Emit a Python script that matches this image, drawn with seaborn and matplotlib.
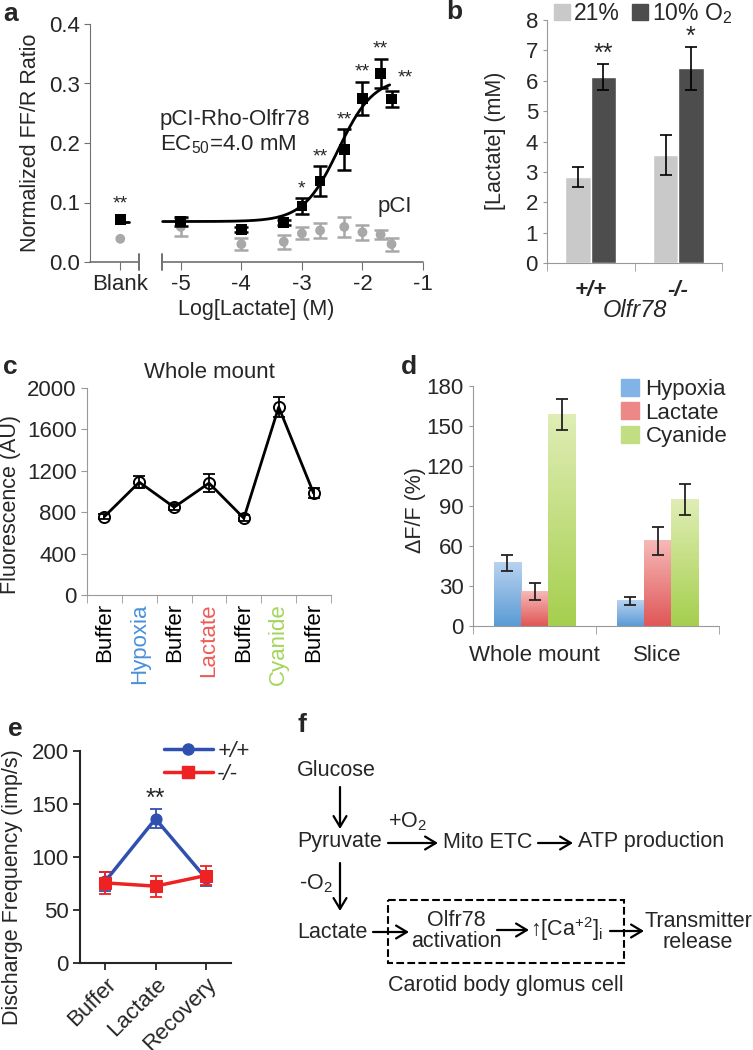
import numpy as np
import pandas as pd
import seaborn as sns
import matplotlib.pyplot as plt
from matplotlib.patches import Patch, Rectangle
from matplotlib.lines import Line2D
from matplotlib.colors import LinearSegmentedColormap

sns.set_style('ticks')
plt.rcParams['font.family'] = ['Liberation Sans', 'DejaVu Sans']
plt.rcParams['font.size'] = 15.5
plt.rcParams['xtick.labelsize'] = 16
plt.rcParams['ytick.labelsize'] = 16
plt.rcParams['mathtext.fontset'] = 'custom'
plt.rcParams['mathtext.rm'] = 'Liberation Sans'
plt.rcParams['mathtext.it'] = 'Liberation Sans:italic'
plt.rcParams['mathtext.default'] = 'regular'

# ---- data ----
# a: Olfr78 luciferase response vs log[lactate]
a_logconc = [-5.0, -4.0, -3.3, -3.0, -2.7, -2.3, -2.0, -1.7, -1.52]
a_olfr78 = [0.068, 0.055, 0.067, 0.094, 0.136, 0.189, 0.275, 0.317, 0.274]
a_olfr78_err = [0.008, 0.004, 0.004, 0.013, 0.025, 0.034, 0.028, 0.024, 0.013]
a_pci = [0.059, 0.030, 0.034, 0.048, 0.053, 0.059, 0.050, 0.046, 0.030]
a_pci_err = [0.015, 0.010, 0.012, 0.010, 0.012, 0.017, 0.013, 0.008, 0.011]
a_blank_olfr78 = 0.071
a_blank_pci = 0.039
a_stars = ['', '', '', '*', '**', '**', '**', '**', '**']
# fitted curve parameters (EC50 = 4.0 mM)
a_bottom, a_top, a_log_ec50, a_hill = 0.068, 0.31, np.log10(0.004), 1.5

# b: lactate in carotid body
b_genotype = ['+/+', '-/-']
b_o2 = ['21%', '10% O$_2$']
b_lactate_21 = [2.83, 3.55]
b_err_21 = [0.33, 0.65]
b_lactate_10 = [6.12, 6.41]
b_err_10 = [0.43, 0.70]
b_stars = ['**', '*']

# c: whole mount fluorescence
c_conditions = ['Buffer', 'Hypoxia', 'Buffer', 'Lactate', 'Buffer', 'Cyanide', 'Buffer']
c_fluor = [758, 1090, 848, 1081, 742, 1816, 984]
c_err = [20, 55, 30, 85, 30, 95, 45]

# d: dF/F
d_prep = ['Whole mount', 'Slice']
d_stimulus = ['Hypoxia', 'Lactate', 'Cyanide']
d_hypoxia = [47.5, 19.0]
d_lactate = [25.8, 64.0]
d_cyanide = [158.5, 95.0]
d_hypoxia_err = [6.0, 3.0]
d_lactate_err = [6.5, 10.5]
d_cyanide_err = [11.8, 11.8]

# e: carotid sinus nerve discharge
e_conditions = ['Buffer', 'Lactate', 'Recovery']
e_wt = [77, 136, 80]
e_wt_err = [9, 9, 7]
e_ko = [75.6, 72.5, 82.5]
e_ko_err = [10.5, 10, 9]

W, H = 753, 1050
fig = plt.figure(figsize=(W / 100, H / 100), dpi=100)


def px_axes(left, top, right, bottom):
    return fig.add_axes([left / W, 1 - bottom / H, (right - left) / W, (bottom - top) / H])


# ---------------- panel a ----------------
ax = px_axes(90, 24, 423, 262)
gray_axis = '#707070'
BLANK_X = -6.0
ax.set_xlim(-6.5, -1)
ax.set_ylim(0, 0.4)
sns.despine(ax=ax)
ax.spines['bottom'].set_visible(False)
ax.spines['left'].set_color(gray_axis)
for seg in [(-6.5, -5.69), (-5.31, -1)]:
    ax.plot(seg, [0, 0], color=gray_axis, lw=1.2, clip_on=False, transform=ax.get_xaxis_transform())
for xb in (-5.69, -5.31):
    ax.plot([xb, xb], [-0.032, 0.032], color=gray_axis, lw=1.4, clip_on=False,
            transform=ax.get_xaxis_transform())

xs = np.linspace(-5.3, -1.55, 200)
ys = a_bottom + (a_top - a_bottom) / (1 + 10 ** ((a_log_ec50 - xs) * a_hill))
sns.lineplot(x=xs, y=ys, color='black', lw=2, ax=ax, zorder=2)
ax.plot([BLANK_X, BLANK_X + 0.15], [a_bottom, a_bottom], color='black', lw=2)

ax.errorbar(a_logconc, a_pci, yerr=a_pci_err, fmt='none', ecolor='#a8a8a8', elinewidth=1.8,
            capsize=5, capthick=1.8, zorder=2)
sns.scatterplot(x=a_logconc + [BLANK_X], y=a_pci + [a_blank_pci], marker='o', s=50,
                color='#a8a8a8', edgecolor='none', ax=ax, zorder=3)
ax.errorbar(a_logconc, a_olfr78, yerr=a_olfr78_err, fmt='none', ecolor='black', elinewidth=1.8,
            capsize=5, capthick=1.8, zorder=4)
sns.scatterplot(x=a_logconc + [BLANK_X], y=a_olfr78 + [a_blank_olfr78], marker='s', s=60,
                color='black', edgecolor='none', ax=ax, zorder=5)

for x, y, e, s in zip(a_logconc, a_olfr78, a_olfr78_err, a_stars):
    if not s:
        continue
    if x == a_logconc[-1]:
        ax.text(x + 0.22, y + e + 0.008, s, ha='center', va='bottom', fontsize=14)
    else:
        ax.text(x, y + e + 0.002, s, ha='center', va='bottom', fontsize=14)
ax.text(BLANK_X, a_blank_olfr78 + 0.012, '**', ha='center', va='bottom', fontsize=14)

ax.text(-5.35, 0.239, 'pCI-Rho-Olfr78', va='center', ha='left', fontsize=16)
ax.text(-5.35, 0.197, 'EC$_{50}$=4.0 mM', va='center', ha='left', fontsize=16)
ax.text(-1.75, 0.094, 'pCI', va='center', ha='left', fontsize=16)

ax.set_xticks([BLANK_X, -5, -4, -3, -2, -1], ['Blank', '-5', '-4', '-3', '-2', '-1'])
ax.set_yticks(np.arange(0, 0.41, 0.1), [f'{v:.1f}' for v in np.arange(0, 0.41, 0.1)])
ax.tick_params(axis='x', length=6, color=gray_axis, pad=3)
ax.tick_params(axis='y', length=4, color=gray_axis, pad=3)
ax.set_xlabel('Log[Lactate] (M)')
ax.xaxis.set_label_coords(0.5, -0.155)
ax.set_ylabel('Normalized FF/R Ratio')
ax.yaxis.set_label_coords(-0.147, 0.5)

# ---------------- panel b ----------------
ax = px_axes(547, 20, 722, 263)
df_b = pd.DataFrame({
    'genotype': b_genotype * 2,
    'o2': [b_o2[0]] * 2 + [b_o2[1]] * 2,
    'lactate': b_lactate_21 + b_lactate_10,
})
sns.barplot(data=df_b, x='genotype', y='lactate', hue='o2', palette=['#c9c9c9', '#4d4d4d'],
            width=0.58, saturation=1, errorbar=None, legend=False, ax=ax)
for cont, errs in zip(ax.containers, [b_err_21, b_err_10]):
    bx = [p.get_x() + p.get_width() / 2 for p in cont]
    by = [p.get_height() for p in cont]
    ax.errorbar(bx, by, yerr=errs, fmt='none', ecolor='black', elinewidth=1.2, capsize=4, capthick=1.2)
    if errs is b_err_10:
        for x, y, e, s in zip(bx, by, errs, b_stars):
            ax.text(x, y + e - 0.05, s, ha='center', va='bottom', fontsize=18)
sns.despine(ax=ax)
ax.spines['left'].set_color('#999999')
ax.spines['bottom'].set_color('#999999')
ax.set_xlim(-0.5, 1.5)
ax.set_ylim(0, 8)
ax.set_yticks(range(0, 9))
ax.set_xticks([-0.5, 0.5, 1.5], minor=True)
ax.tick_params(axis='x', which='major', length=0, pad=12)
ax.tick_params(axis='x', which='minor', length=6, color='#999999')
ax.tick_params(axis='y', length=3, color='#999999')
for t in ax.get_xticklabels():
    t.set_fontstyle('italic')
    t.set_fontweight('bold')
ax.set_xlabel('Olfr78', fontstyle='italic', fontsize=17)
ax.xaxis.set_label_coords(0.5, -0.15)
ax.set_ylabel('[Lactate] (mM)')
ax.yaxis.set_label_coords(-0.234, 0.502)
ax.legend(handles=[Patch(color='#c9c9c9'), Patch(color='#4d4d4d')], labels=b_o2, ncol=2,
          loc='upper center', bbox_to_anchor=(643 / W, 1 - 1 / H), bbox_transform=fig.transFigure,
          frameon=False, handlelength=0.7, handleheight=0.7, handletextpad=0.2,
          columnspacing=0.5, borderpad=0, borderaxespad=0, fontsize=16.5)

# ---------------- panel c ----------------
ax = px_axes(87, 388, 331, 595)
cpos = list(range(len(c_conditions)))
ax.errorbar(cpos, c_fluor, yerr=c_err, fmt='none', ecolor='black', elinewidth=1.3, capsize=4, capthick=1.3)
sns.lineplot(x=cpos, y=c_fluor, color='black', lw=2, marker='o', markersize=8,
             markerfacecolor='none', markeredgecolor='black', markeredgewidth=1.4, ax=ax)
sns.despine(ax=ax)
ax.spines['left'].set_color('#999999')
ax.spines['bottom'].set_color('#999999')
ax.set_xlim(-0.5, 6.5)
ax.set_ylim(0, 2000)
ax.set_yticks(range(0, 2001, 400))
ax.set_xticks(cpos, c_conditions, rotation=90, ha='center', va='top')
ax.set_xticks(np.arange(-0.5, 7, 1), minor=True)
ax.tick_params(axis='x', which='major', length=0, pad=6)
ax.tick_params(axis='x', which='minor', length=6, color='#999999')
ax.tick_params(axis='y', length=4, color='#999999')
c_colors = {'Hypoxia': '#4a90d9', 'Lactate': '#ef5a55', 'Cyanide': '#a3d55a'}
for t in ax.get_xticklabels():
    t.set_color(c_colors.get(t.get_text(), 'black'))
ax.set_title('Whole mount', pad=7, fontsize=16)
ax.set_ylabel('Fluorescence (AU)')
ax.yaxis.set_label_coords(-0.27, 0.435)

# ---------------- panel d ----------------
ax = px_axes(473, 386, 719, 626)
df_d = pd.DataFrame({
    'prep': d_prep * 3,
    'stimulus': [s for s in d_stimulus for _ in d_prep],
    'dff': d_hypoxia + d_lactate + d_cyanide,
})
d_mid = ['#82b3e6', '#ec8987', '#c2de82']
d_grad = [('#5b9bd5', '#b7d2f0'), ('#e05757', '#f6b9b7'), ('#a6cf4e', '#dfedb4')]
sns.barplot(data=df_d, x='prep', y='dff', hue='stimulus', palette=d_mid, width=0.66,
            saturation=1, errorbar=None, legend=False, ax=ax)
for cont, (c_bot, c_top), errs in zip(ax.containers, d_grad,
                                       [d_hypoxia_err, d_lactate_err, d_cyanide_err]):
    cmap = LinearSegmentedColormap.from_list('bar', [c_bot, c_top])
    bx, by = [], []
    for bar in cont:
        x0, w, h = bar.get_x(), bar.get_width(), bar.get_height()
        ax.imshow(np.linspace(0, 1, 64).reshape(-1, 1), extent=(x0, x0 + w, 0, h), origin='lower',
                  cmap=cmap, aspect='auto', zorder=2)
        bx.append(x0 + w / 2)
        by.append(h)
    ax.errorbar(bx, by, yerr=errs, fmt='none', ecolor='#222222', elinewidth=1.3, capsize=4,
                capthick=1.3, zorder=4)
sns.despine(ax=ax)
ax.spines['left'].set_color('#999999')
ax.spines['bottom'].set_color('#999999')
ax.set_xlim(-0.5, 1.5)
ax.set_ylim(0, 180)
ax.set_yticks(range(0, 181, 30))
ax.set_xticks([-0.5, 0.5, 1.5], minor=True)
ax.tick_params(axis='x', which='major', length=0, pad=14)
ax.tick_params(axis='x', which='minor', length=6, color='#999999')
ax.tick_params(axis='y', length=3, color='#999999')
ax.set_xlabel('')
ax.set_ylabel('ΔF/F (%)')
ax.yaxis.set_label_coords(-0.19, 0.483)
ax.legend(handles=[Patch(color=c) for c in d_mid], labels=d_stimulus, loc='upper left',
          bbox_to_anchor=(621 / W, 1 - 379 / H), bbox_transform=fig.transFigure, frameon=False,
          handlelength=0.8, handleheight=0.8, handletextpad=0.3, labelspacing=0.1,
          borderpad=0, borderaxespad=0, fontsize=16)

# ---------------- panel e ----------------
ax = px_axes(80, 751, 231, 963)
blue, red = '#3050b0', '#ee2222'
epos = list(range(len(e_conditions)))
ax.errorbar(epos, e_wt, yerr=e_wt_err, fmt='none', ecolor=blue, elinewidth=1.3, capsize=4, capthick=1.3)
sns.lineplot(x=epos, y=e_wt, color=blue, lw=2.5, marker='o', markersize=8,
             markeredgecolor=blue, ax=ax)
ax.errorbar(epos, e_ko, yerr=e_ko_err, fmt='none', ecolor=red, elinewidth=1.3, capsize=4, capthick=1.3)
sns.lineplot(x=epos, y=e_ko, color=red, lw=2.5, marker='s', markersize=9,
             markeredgecolor=red, ax=ax)
ax.text(epos[1], e_wt[1] + e_wt_err[1] - 1, '**', ha='center', va='bottom', fontsize=18)
sns.despine(ax=ax)
for sp in ('left', 'bottom'):
    ax.spines[sp].set_linewidth(1.5)
ax.set_xlim(-0.5, 2.5)
ax.set_ylim(0, 200)
ax.set_yticks(range(0, 201, 50))
ax.set_xticks(epos, e_conditions, rotation=45, ha='right', rotation_mode='anchor')
ax.tick_params(length=5, width=1.3, pad=3)
ax.set_ylabel('Discharge Frequency (imp/s)')
ax.yaxis.set_label_coords(-0.377, 0.358)
ax.legend(handles=[Line2D([], [], color=blue, lw=2.5, marker='o', markersize=8),
                   Line2D([], [], color=red, lw=2.5, marker='s', markersize=9)],
          labels=['+/+', '-/-'], loc='upper left', bbox_to_anchor=(164 / W, 1 - 741 / H),
          bbox_transform=fig.transFigure, frameon=False, handlelength=2.2, handletextpad=0.2,
          labelspacing=0.1, borderpad=0, borderaxespad=0, prop={'style': 'italic', 'size': 16})

# ---------------- panel f (schematic) ----------------
fax = fig.add_axes([0, 0, 1, 1])
fax.set_xlim(0, W)
fax.set_ylim(H, 0)
fax.axis('off')
arrow = dict(arrowstyle='->,head_length=0.5,head_width=0.3', lw=1.6, color='black',
             shrinkA=0, shrinkB=0)


def f_arrow(x0, y0, x1, y1):
    fax.annotate('', xy=(x1, y1), xytext=(x0, y0), arrowprops=arrow)


fax.text(297, 771, 'Glucose', va='center', ha='left')
f_arrow(340, 787, 340, 829)
fax.text(297, 842, 'Pyruvate', va='center', ha='left')
f_arrow(388, 843, 438, 843)
fax.text(388, 822, '+O$_2$', va='center', ha='left')
fax.text(443, 842, 'Mito ETC', va='center', ha='left')
f_arrow(538, 843, 573, 843)
fax.text(578, 842, 'ATP production', va='center', ha='left')
f_arrow(340, 863, 340, 911)
fax.text(299, 884, '-O$_2$', va='center', ha='left')
fax.text(297, 932, 'Lactate', va='center', ha='left')
f_arrow(373, 932, 409, 932)
fax.add_patch(Rectangle((388, 900), 236, 63, fill=False, ls='--', lw=1.5, ec='black'))
fax.text(456, 931, 'Olfr78\nactivation', va='center', ha='center', linespacing=1.05)
f_arrow(497, 930, 529, 930)
fax.text(530, 929, '↑[Ca$^{+2}$]$_{i}$', va='center', ha='left')
f_arrow(610, 931, 644, 931)
fax.text(698, 932, 'Transmitter\nrelease', va='center', ha='center', linespacing=1.05)
fax.text(506, 986, 'Carotid body glomus cell', va='center', ha='center')

# panel letters
for letter, (lx, ly) in {'a': (3, 14), 'b': (446, 12), 'c': (3, 367), 'd': (401, 367),
                         'e': (8, 729), 'f': (297, 725)}.items():
    fig.text(lx / W, 1 - ly / H, letter, fontsize=19, fontweight='bold', va='center', ha='left')

fig.savefig('out.png', dpi=100)
